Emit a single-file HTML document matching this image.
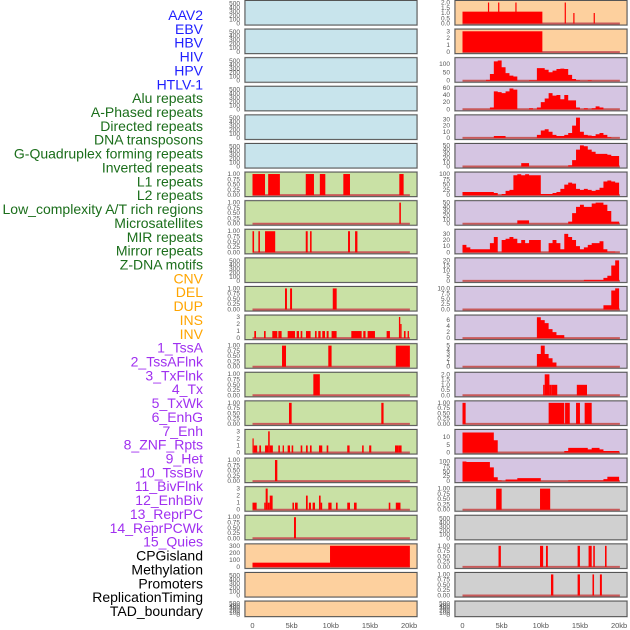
<!DOCTYPE html>
<html><head><meta charset="utf-8"><style>
html,body{margin:0;padding:0;background:#fff;}
svg{display:block;font-family:"Liberation Sans",sans-serif;}
</style></head><body>
<svg id="chart" width="630" height="630" viewBox="0 0 630 630" xmlns="http://www.w3.org/2000/svg">
<g id="labels"></g>
<g id="panels"></g>
<g id="xaxes"></g>
</svg>
<script>
// ---- label data ----
const labelNames = ["AAV2","EBV","HBV","HIV","HPV","HTLV-1","Alu repeats","A-Phased repeats","Directed repeats","DNA transposons","G-Quadruplex forming repeats","Inverted repeats","L1 repeats","L2 repeats","Low_complexity A/T rich regions","Microsatellites","MIR repeats","Mirror repeats","Z-DNA motifs","CNV","DEL","DUP","INS","INV","1_TssA","2_TssAFlnk","3_TxFlnk","4_Tx","5_TxWk","6_EnhG","7_Enh","8_ZNF_Rpts","9_Het","10_TssBiv","11_BivFlnk","12_EnhBiv","13_ReprPC","14_ReprPCWk","15_Quies","CPGisland","Methylation","Promoters","ReplicationTiming","TAD_boundary"];
const labelGroups = [6,13,5,15,5];
const groupColors = ["#1f1fff","#1b6e1b","#ffa500","#a030f0","#000000"];

// ---- x axis ----
const xTickValues = [0,5,10,15,20];
const xTickLabels = ["0","5kb","10kb","15kb","20kb"];

// ---- tick sets ----
const ticksEmpty = [0,100,200,300,400,500];
const ticksUnit = [0,0.25,0.5,0.75,1.0];
const ticksUnitLbl = ["0.00","0.25","0.50","0.75","1.00"];

// ---- right-column binned profiles (0.5kb bins) ----
const hivBins = [0,0,0,0,0,0,5,40,115,120,80,45,30,25,0,0,0,3,3,75,75,65,50,60,70,72,70,35,10,3,0,0,3,0,0,0,0,0,0,0];
const aluBins = [0,0,0,0,0,0,0,5,50,48,45,50,58,55,0,0,0,3,0,5,20,30,45,38,40,28,40,25,25,5,0,3,0,3,8,5,0,0,0,0];
const directedBins = [0,0,0,0,0,0,0,0,3,3,3,0,0,0,0,0,0,0,0,5,12,14,10,5,3,3,5,8,20,33,10,5,4,3,6,8,5,1,0,0];
const dnaBins = [0,0,0,0,0,0,0,0,0,0,0,0,0,0,0,8,8,0,0,0,0,0,0,0,0,0,0,3,15,40,50,48,40,35,30,30,30,28,25,25];
const l1Bins = [15,15,15,15,15,15,15,15,10,0,5,20,25,95,100,95,100,95,95,95,5,5,5,10,15,30,50,60,55,30,25,30,25,20,25,35,65,70,65,60];
const l2Bins = [0,0,0,0,0,0,0,0,0,0,0,0,0,0,8,8,8,0,0,0,0,0,0,0,0,0,0,5,25,40,45,40,40,48,50,50,45,30,5,5];
const mirBins = [12,8,5,5,5,5,5,15,25,0,20,22,25,22,15,20,15,20,20,20,0,0,15,20,15,5,30,25,20,10,5,8,12,15,15,18,5,1,1,0];
const zdnaBins = [0,0,0,0,0,0,0,0,0,0,0,0,0,0,0,0,0,0,0,0,0,0,0,0,0,0,0,0,0,0,0,1,1,1,1,1,3,5,15,20];
const cnvBins = [0,0,0,0,0,0,0,0,0,0,0,0,0,0,0,0,0,0,0,0,0,0,0,0,0,0,0,0,0,0,0,0,0,0,0,0,2,2,9,10];
const insBins = [0,0,0,0,0,0,0,0,0,0,0,0,0,0,0,0,0,0,0,7,6,5,3,2,1,1,0,0,0,0,0,0,0,0,0,0,0,0,0,0];
const invBins = [0,0,0,0,0,0,0,0,0,0,0,0,0,0,0,0,0,0,0,3,5,3,2,1,0,0,0,0,0,0,0,0,0,0,0,0,0,0,0,0];
const enhBins = [13,13,13,13,13,13,13,13,8,0,0,0,0,0,0,0,0,0,0,0,0,0,0,0,0,0,1,3,3,3,3,3,2,3,3,2,1,1,1,1];
const znfBins = [100,98,98,98,98,98,98,70,20,3,0,8,8,8,15,15,15,15,15,15,0,0,0,0,0,0,0,3,3,3,3,3,3,3,3,3,10,22,22,22];

// ---- segment tracks [startKb, endKb, value] ----
const aav2Segs = [[0,10.2,1.13],[3.25,3.4,2],[4.55,4.7,2],[6.75,6.9,2],[13.05,13.2,2],[14.15,14.3,1],[16.75,16.9,1]];
const ebvSegs = [[0,10.2,3]];
const txFlnkSegs = [[10.5,11.1,2],[10.3,10.5,1],[11.1,11.4,1],[11.4,12.1,1],[14.6,15.9,1]];
const txSegs = [[0,0.4,1],[11,13,1],[13.1,13.7,1],[14.5,15,1],[15.6,16.5,1]];
const tssBivR = [[4.3,5.0,1],[9.9,11.2,1]];
const cpgR = [[4.6,4.9,1],[9.9,10.3,1],[10.66,10.9,1],[14.7,15.0,1],[16.1,16.5,1],[16.7,16.9,1],[18.2,18.4,1]];
const methR = [[11.3,11.6,1],[14.7,15.0,1],[16.6,16.8,1],[17.55,17.8,1]];
const lowcxL = [[0,1.6,1],[2,3.5,1],[6.8,7.85,1],[8.6,9.3,1],[11.6,12.45,1],[18.75,19.3,1]];
const microL = [[18.75,18.95,1]];
const mirL = [[0,0.2,1],[0.75,0.95,1],[1.6,2.9,1],[6.8,7.05,1],[7.35,7.55,1],[12.2,12.45,1],[13.1,13.4,1]];
const cnvL = [[4.15,4.4,1],[4.8,5.05,1],[10.25,10.75,1]];
const insL = [[0.23,0.45,1],[1.47,1.68,1],[2.53,3.17,1],[3.3,3.72,1],[4.49,5.43,1],[5.64,5.94,1],[6.15,6.36,1],[6.83,7.42,1],[7.98,8.19,1],[8.4,8.7,1],[8.91,9.26,1],[9.47,9.72,1],[10.1,10.74,1],[12.62,13.94,1],[14.15,14.44,1],[14.7,15.64,1],[17.13,17.55,1],[18.7,18.87,3],[18.87,19.04,2],[19.34,19.55,1],[19.81,19.98,1]];
const invL = [[3.77,4.28,1],[9.68,10.1,1],[18.3,20.1,1]];
const tssaL = [[7.77,8.6,1]];
const tssaflnkL = [[4.66,5.0,1],[16.45,16.74,1]];
const txwkL = [[0,0.15,2],[0.15,0.6,1],[0.87,1.09,1],[1.6,2.0,1],[2.0,2.2,3],[2.2,2.6,1],[3.3,3.5,1],[3.85,4.02,1],[4.49,4.79,1],[5.0,5.2,1],[6.15,6.36,1],[6.83,7.05,1],[7.34,7.55,1],[8.49,8.91,1],[9.47,9.68,1],[12.1,12.4,1],[14.0,14.2,1],[14.9,15.17,1],[18.2,18.6,1],[18.6,19.04,1]];
const enhgL = [[2.87,3.17,1]];
const enhL = [[0,0.53,1],[1.5,1.68,1],[1.68,1.94,3],[1.94,2.2,1],[2.2,2.57,2],[5.1,5.3,1],[5.43,5.77,1],[6.83,7.05,2],[7.2,7.47,1],[7.68,7.98,1],[8.49,8.7,2],[8.7,8.9,1],[9.68,10.1,1],[10.66,10.87,1],[12.1,12.45,1],[12.96,13.3,1],[17.4,17.6,1],[18.3,18.9,1]];
const znfL = [[5.3,5.55,1]];
const cpgL = [[0,9.9,60],[9.9,20.1,300]];

const BLUE="#c8e4ec", GREEN="#c9e1a5", ORANGE="#fdd09e", PURPLE="#d5c5e2", GREY="#d0d0d0";

// config: [row, side, bg, ymax, ticks, tickLabels, type, data]
const tracks = [];
for (let r=0;r<6;r++) tracks.push([r,0,BLUE,540,ticksEmpty,null,null,null]);
tracks.push([0,1,ORANGE,2.05,[0,0.5,1,1.5,2],["0.0","0.5","1.0","1.5","2.0"],"seg",aav2Segs]);
tracks.push([1,1,ORANGE,3.1,[0,1,2,3],null,"seg",ebvSegs]);
tracks.push([2,1,PURPLE,128,[0,50,100],null,"bin",hivBins]);
tracks.push([3,1,PURPLE,60,[0,20,40,60],null,"bin",aluBins]);
tracks.push([4,1,PURPLE,35,[0,10,20,30],null,"bin",directedBins]);
tracks.push([5,1,PURPLE,51,[0,10,20,30,40,50],null,"bin",dnaBins]);
tracks.push([6,0,GREEN,1.02,ticksUnit,ticksUnitLbl,"seg",lowcxL]);
tracks.push([6,1,PURPLE,103,[0,25,50,75,100],null,"bin",l1Bins]);
tracks.push([7,0,GREEN,1.02,ticksUnit,ticksUnitLbl,"seg",microL]);
tracks.push([7,1,PURPLE,51,[0,10,20,30,40,50],null,"bin",l2Bins]);
tracks.push([8,0,GREEN,1.02,ticksUnit,ticksUnitLbl,"seg",mirL]);
tracks.push([8,1,PURPLE,35,[0,10,20,30],null,"bin",mirBins]);
tracks.push([9,0,GREEN,540,ticksEmpty,null,null,null]);
tracks.push([9,1,PURPLE,21,[0,5,10,15,20],null,"bin",zdnaBins]);
tracks.push([10,0,GREEN,1.02,ticksUnit,ticksUnitLbl,"seg",cnvL]);
tracks.push([10,1,PURPLE,10.2,[0,2.5,5,7.5,10],["0.0","2.5","5.0","7.5","10.0"],"bin",cnvBins]);
tracks.push([11,0,GREEN,3.05,[0,1,2,3],null,"seg",insL]);
tracks.push([11,1,PURPLE,7.2,[0,2,4,6],null,"bin",insBins]);
tracks.push([12,0,GREEN,1.02,ticksUnit,ticksUnitLbl,"seg",invL]);
tracks.push([12,1,PURPLE,5.1,[0,1,2,3,4,5],null,"bin",invBins]);
tracks.push([13,0,GREEN,1.02,ticksUnit,ticksUnitLbl,"seg",tssaL]);
tracks.push([13,1,PURPLE,2.05,[0,0.5,1,1.5,2],["0.0","0.5","1.0","1.5","2.0"],"seg",txFlnkSegs]);
tracks.push([14,0,GREEN,1.02,ticksUnit,ticksUnitLbl,"seg",tssaflnkL]);
tracks.push([14,1,PURPLE,1.02,ticksUnit,ticksUnitLbl,"seg",txSegs]);
tracks.push([15,0,GREEN,3.05,[0,1,2,3],null,"seg",txwkL]);
tracks.push([15,1,PURPLE,14,[0,5,10],null,"bin",enhBins]);
tracks.push([16,0,GREEN,1.02,ticksUnit,ticksUnitLbl,"seg",enhgL]);
tracks.push([16,1,PURPLE,110,[0,25,50,75,100],null,"bin",znfBins]);
tracks.push([17,0,GREEN,3.05,[0,1,2,3],null,"seg",enhL]);
tracks.push([17,1,GREY,1.02,ticksUnit,ticksUnitLbl,"seg",tssBivR]);
tracks.push([18,0,GREEN,1.02,ticksUnit,ticksUnitLbl,"seg",znfL]);
tracks.push([18,1,GREY,540,ticksEmpty,null,null,null]);
tracks.push([19,0,ORANGE,305,[0,100,200,300],null,"seg",cpgL]);
tracks.push([19,1,GREY,1.02,ticksUnit,ticksUnitLbl,"seg",cpgR]);
tracks.push([20,0,ORANGE,540,ticksEmpty,null,null,null]);
tracks.push([20,1,GREY,1.02,ticksUnit,ticksUnitLbl,"seg",methR]);
tracks.push([21,0,ORANGE,540,ticksEmpty,null,null,null]);
tracks.push([21,1,GREY,540,ticksEmpty,null,null,null]);

const NS="http://www.w3.org/2000/svg";
function mk(tag, attrs, parent){const e=document.createElementNS(NS,tag);for(const k in attrs)e.setAttribute(k,attrs[k]);parent.appendChild(e);return e;}
const panelX=[245,455], panelW=172;
const zeroX=[252.5,462.5], kbPx=7.83;
function xScale(side,kb){return zeroX[side]+kb*kbPx;}
function rowTop(r){return 0.5+r*28.6;}
function rowH(r){return r===21?15.5:24.5;}

// labels
const lg=document.getElementById('labels');
let li=0;
labelGroups.forEach((n,g)=>{for(let k=0;k<n;k++){const t=mk('text',{x:203,y:15+li*13.86+5,'text-anchor':'end','font-size':'14',fill:groupColors[g]},lg);


t.textContent=labelNames[li];li++;}});

const pg=document.getElementById('panels');
tracks.forEach(tr=>{
  const [r,side,bg,ymax,ticks,tl,type,data]=tr;
  const top=rowTop(r), h=rowH(r), px=panelX[side];
  const g=mk('g',{},pg);
  
  
  mk('rect',{x:px-0.5,y:top-0.5,width:panelW+1,height:h+1,fill:'none',stroke:'#d8d8d8','stroke-width':1},g);
  mk('rect',{x:px,y:top,width:panelW,height:h,fill:bg},g);
  const y0=top+h-1.5, yH=h-3;
  const ys=v=>y0-v/ymax*yH;
  // ticks
  ticks.forEach((v,i)=>{const t=mk('text',{x:px-5,y:ys(v)+2,'text-anchor':'end','font-size':'6.5',fill:'#555'},g);
    
    
    t.textContent=tl?tl[i]:String(v);});
  if(type){
    mk('line',{x1:xScale(side,0),x2:xScale(side,20.1),y1:y0,y2:y0,stroke:'#c85a5a','stroke-width':2},g);
    if(type==='seg'){
      data.forEach(s=>{const b=mk('rect',{x:xScale(side,s[0]),y:ys(s[2]),width:Math.max(1.2,xScale(side,s[1])-xScale(side,s[0])),height:y0-ys(s[2]),fill:'#ff0000'},g);
        
        });
    } else {
      let d='M'+xScale(side,0)+','+y0;
      data.forEach((v,i)=>{d+=' L'+xScale(side,i*0.5)+','+ys(v)+' L'+xScale(side,(i+1)*0.5)+','+ys(v);});
      d+=' L'+xScale(side,data.length*0.5)+','+y0+' Z';
      const p=mk('path',{d:d,fill:'#ff0000'},g);
      
      
    }
  }
  mk('rect',{x:px,y:top,width:panelW,height:h,fill:'none',stroke:'#555','stroke-width':1},g);
});

// x axes
const xg=document.getElementById('xaxes');
[0,1].forEach(side=>{xTickValues.forEach((v,i)=>{const t=mk('text',{x:xScale(side,v),y:628,'text-anchor':'middle','font-size':'7.5',fill:'#555'},xg);
  
  
  t.textContent=xTickLabels[i];});});
</script>
</body></html>
